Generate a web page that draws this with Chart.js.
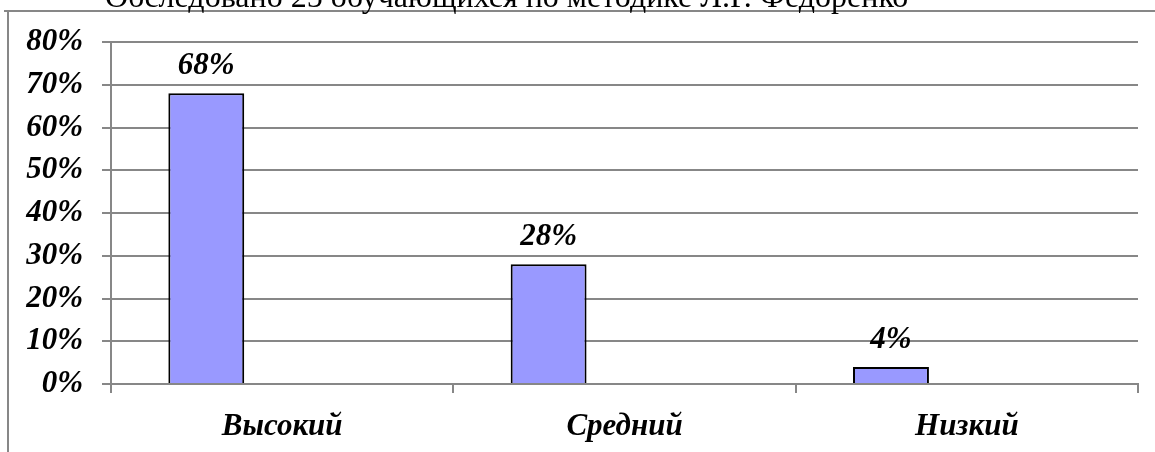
<!DOCTYPE html>
<html>
<head>
<meta charset="utf-8">
<script src="https://cdn.jsdelivr.net/npm/chart.js@4.4.1/dist/chart.umd.min.js"></script>
<style>
	html, body { margin: 0; padding: 0; background: #fff; }
	#wrap { position: relative; width: 1155px; height: 452px; }
</style>
</head>
<body>
<div id="wrap"><canvas id="myChart"></canvas></div>
<script>
	// Данные
	const categories = ['Высокий', 'Средний', 'Низкий'];
	const levelValues = [68, 28, 4];
	const emptySeries = [null, null, null];
	const tickValues = [0, 10, 20, 30, 40, 50, 60, 70, 80];
	const caption = 'Обследовано 25 обучающихся по методике Л.Р. Федоренко';

	const serif = "'Times New Roman', 'Liberation Serif', serif";
	const gridColor = '#878787';

	// Рамка и подпись сверху
	const framePlugin = {
		id: 'frame',
		afterDraw(chart) {
			const ctx = chart.ctx;
			ctx.save();
			ctx.strokeStyle = gridColor;
			ctx.lineWidth = 2;
			ctx.beginPath();
			ctx.moveTo(4, 11);
			ctx.lineTo(1155, 11);
			ctx.moveTo(8, 11);
			ctx.lineTo(8, 452);
			ctx.stroke();
			ctx.fillStyle = '#000';
			ctx.font = '32px ' + serif;
			ctx.textBaseline = 'alphabetic';
			ctx.fillText(caption, 105, 7);
			ctx.restore();
		}
	};

	// Подписи значений над столбцами
	const valueLabels = {
		id: 'valueLabels',
		afterDatasetsDraw(chart) {
			const ctx = chart.ctx;
			const meta = chart.getDatasetMeta(0);
			ctx.save();
			ctx.fillStyle = '#000';
			ctx.font = 'italic bold 31px ' + serif;
			ctx.textAlign = 'center';
			ctx.textBaseline = 'alphabetic';
			meta.data.forEach((bar, i) => {
				ctx.fillText(levelValues[i] + '%', bar.x, bar.y - 19);
			});
			ctx.restore();
		}
	};

	const data = {
		labels: categories,
		datasets: [
			{
				label: 'Уровень',
				data: levelValues,
				backgroundColor: '#9999ff',
				borderColor: '#000',
				borderWidth: 2
			},
			{ label: '', data: emptySeries },
			{ label: '', data: emptySeries }
		]
	};

	const config = {
		type: 'bar',
		data: data,
		options: {
			responsive: false,
			animation: false,
			categoryPercentage: 0.665,
			barPercentage: 1,
			layout: { padding: { left: 0, top: 42, right: 17, bottom: 0 } },
			plugins: {
				legend: { display: false },
				tooltip: { enabled: false }
			},
			scales: {
				x: {
					grid: {
						display: true,
						drawOnChartArea: false,
						offset: true,
						color: gridColor,
						lineWidth: 2,
						tickLength: 9
					},
					border: { display: true, color: gridColor, width: 2 },
					ticks: {
						color: '#000',
						font: { family: serif, size: 31, style: 'italic', weight: 'bold' },
						padding: 15
					},
					afterFit(scale) { scale.height = 68; }
				},
				y: {
					min: 0,
					max: 80,
					afterBuildTicks(scale) {
						scale.ticks = tickValues.map(v => ({ value: v }));
					},
					grid: {
						color: gridColor,
						lineWidth: 2,
						tickLength: 9
					},
					border: { display: true, color: gridColor, width: 2 },
					ticks: {
						color: '#000',
						font: { family: serif, size: 31, style: 'italic', weight: 'bold' },
						padding: 19,
						callback: v => v + '%'
					},
					afterFit(scale) { scale.width = 111; }
				}
			}
		},
		plugins: [framePlugin, valueLabels]
	};

	const canvas = document.getElementById('myChart');
	canvas.width = 1155;
	canvas.height = 452;
	const myChart = new Chart(canvas, config);
</script>
</body>
</html>
